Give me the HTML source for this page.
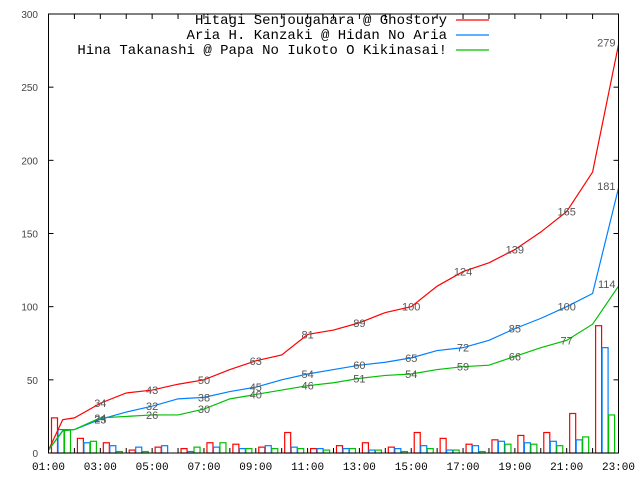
<!DOCTYPE html>
<html><head><meta charset="utf-8"><style>
body{margin:0;background:#fff;}
svg{display:block;}
.yl{font:10px "Liberation Sans",sans-serif;fill:#444;}
.xl{font:11px "Liberation Mono",monospace;fill:#000;}
.vl{font:11px "Liberation Sans",sans-serif;fill:#555;}
.lg{font:14px "Liberation Mono",monospace;fill:#000;}
</style></head><body>
<svg id="chart" width="640" height="480"></svg>
<script>
const hourLabels=["01:00","03:00","05:00","07:00","09:00","11:00","13:00","15:00","17:00","19:00","21:00","23:00"];
const yTicks=[0,50,100,150,200,250,300];
const seriesNames=["Hitagi Senjougahara @ Ghostory","Aria H. Kanzaki @ Hidan No Aria","Hina Takanashi @ Papa No Iukoto O Kikinasai!"];
const colors=["#ff0000","#0080ff","#00c000"];
const redHourly=[24,10,7,2,4,3,7,6,4,14,3,5,7,4,14,10,6,9,12,14,27,87];
const blueHourly=[16,7,5,4,5,1,4,3,5,4,3,3,2,3,5,2,5,8,7,8,9,72];
const greenHourly=[16,8,1,1,0,4,7,3,3,3,2,3,2,1,3,2,1,6,6,5,11,26];
const series=[redHourly,blueHourly,greenHourly];
const NS="http://www.w3.org/2000/svg";
const svg=document.getElementById('chart');
const L=48.5,R=618.5,T=14,B=453;
const X=h=>L+(R-L)*h/22;
const Y=v=>B-(B-T)*v/300;
function mk(tag,attrs,parent){const e=document.createElementNS(NS,tag);for(const k in attrs)e.setAttribute(k,attrs[k]);(parent||svg).appendChild(e);return e;}
// ticks
for(let h=0;h<=22;h++){
  const t1=mk('line',{x1:X(h),x2:X(h),y1:B,y2:B-5,stroke:'#000'});
  
  
  const t2=mk('line',{x1:X(h),x2:X(h),y1:T,y2:T+5,stroke:'#000'});
  
  
}
hourLabels.forEach((s,i)=>{
  const t=mk('text',{x:X(i*2),y:470,'text-anchor':'middle',class:'xl'});t.textContent=s;
  
  
});
yTicks.forEach(v=>{
  const a=mk('line',{x1:L,x2:L+5,y1:Y(v),y2:Y(v),stroke:'#000'});
  
  
  const b=mk('line',{x1:R,x2:R-5,y1:Y(v),y2:Y(v),stroke:'#000'});
  
  
  const t=mk('text',{x:38,y:Y(v)+4,'text-anchor':'end',class:'yl'});t.textContent=v;
  
  
});
// bars
const bw=6.5;
series.forEach((arr,si)=>{
  arr.forEach((v,h)=>{
    if(v<=0)return;
    const x=X(h)+3+si*bw;
    const r=mk('rect',{x:x,y:Y(v),width:bw-0.5,height:B-Y(v),fill:'none',stroke:colors[si],'stroke-width':1.2});
    
    
  });
});
// cumulative lines + labels
series.forEach((arr,si)=>{
  let c=0;const pts=[[X(0),Y(2)]];const cum=[];
  arr.forEach((v,h)=>{c+=v;cum.push(c);
    if(h===0){pts.push([X(0.55),Y(c*0.95)]);}
    pts.push([X(h+1),Y(c)]);});
  let d='M'+pts[0][0]+','+pts[0][1];
  for(let i=1;i<pts.length;i++){d+=' L'+pts[i][0]+','+pts[i][1];}
  const p=mk('path',{d:d,fill:'none',stroke:colors[si],'stroke-width':1.2});
  
  
  for(let h=1;h<cum.length;h+=2){
    const last=h===cum.length-1;
    const t=mk('text',{x:last?X(h+1)-3:X(h+1),y:Y(cum[h])+(last?2:4),'text-anchor':last?'end':'middle',class:'vl'});
    t.textContent=cum[h];
    
    
  }
});
// frame
const f=mk('rect',{x:L,y:T,width:R-L,height:B-T,fill:'none',stroke:'#000'});


// legend
seriesNames.forEach((s,i)=>{
  const y=20+i*15;
  const t=mk('text',{x:447,y:y+4,'text-anchor':'end',class:'lg'});t.textContent=s;
  
  
  const l=mk('line',{x1:456,x2:489,y1:y,y2:y,stroke:colors[i],'stroke-width':1.2});
  
  
});
</script>
</body></html>
